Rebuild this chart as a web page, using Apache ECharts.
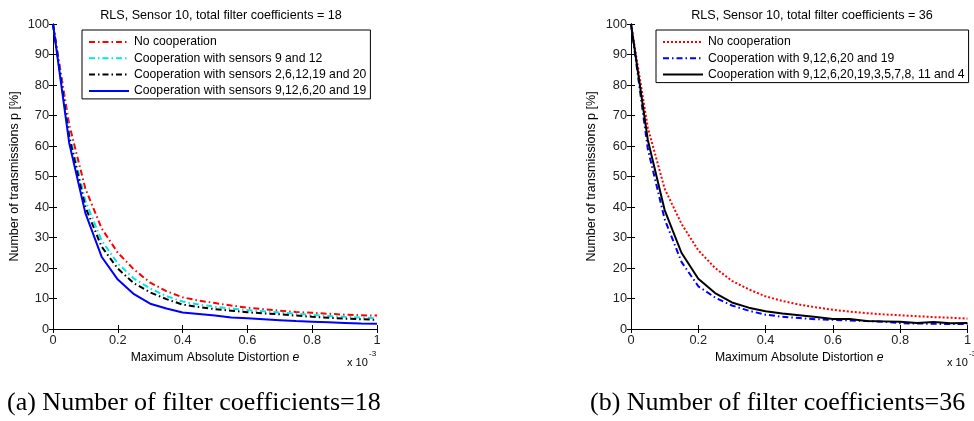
<!DOCTYPE html>
<html>
<head>
<meta charset="utf-8">
<script src="https://cdn.jsdelivr.net/npm/echarts@6/dist/echarts.min.js"></script>
<style>
html,body{margin:0;padding:0;background:#fff;}
#chart{width:974px;height:421px;}
</style>
</head>
<body>
<div id="chart"></div>
<script>
// ---- data (x in units of 1e-3) ----
const xVals = [0, 0.05, 0.1, 0.15, 0.2, 0.25, 0.3, 0.35, 0.4, 0.45, 0.5, 0.55, 0.6, 0.65, 0.7, 0.75, 0.8, 0.85, 0.9, 0.95, 1.0];

// panel (a): 18 filter coefficients
const aNames = ['No cooperation', 'Cooperation with sensors 9 and 12', 'Cooperation with sensors 2,6,12,19 and 20', 'Cooperation with sensors 9,12,6,20 and 19'];
const aNoCoop   = [100, 67, 46, 33, 25, 19.5, 15.2, 12.4, 10.4, 9.3, 8.5, 7.7, 7.0, 6.5, 6.0, 5.6, 5.3, 5.0, 4.7, 4.5, 4.4];
const aCoop2    = [100, 64, 42, 29, 21.5, 16.5, 13.3, 10.8, 9.0, 8.0, 7.3, 6.7, 6.2, 5.8, 5.4, 5.0, 4.6, 4.3, 4.0, 3.8, 3.6];
const aCoop5a   = [100, 63, 40, 27, 19.8, 15, 12, 9.8, 8.0, 7.2, 6.5, 6.0, 5.5, 5.1, 4.8, 4.4, 4.0, 3.7, 3.4, 3.2, 3.0];
const aCoop5b   = [100, 61, 38, 23.7, 16.2, 11.4, 8.3, 6.7, 5.4, 4.9, 4.4, 3.8, 3.5, 3.2, 2.9, 2.6, 2.4, 2.2, 2.0, 1.8, 1.7];

// panel (b): 36 filter coefficients
const bNames = ['No cooperation', 'Cooperation with 9,12,6,20 and 19', 'Cooperation with 9,12,6,20,19,3,5,7,8, 11 and 4'];
const bNoCoop   = [100, 66, 46, 34.5, 25.8, 20, 15.8, 13, 10.7, 9.2, 8.0, 7.1, 6.3, 5.7, 5.2, 4.8, 4.5, 4.2, 3.9, 3.7, 3.4];
const bCoop5    = [100, 59, 36, 22, 14, 10.3, 7.7, 6.0, 4.7, 4.0, 3.6, 3.2, 3.0, 2.8, 2.6, 2.4, 1.9, 1.8, 1.7, 1.6, 1.6];
const bCoop11   = [100, 62, 39, 25, 16.5, 11.8, 8.7, 7.0, 5.8, 5.1, 4.5, 3.9, 3.3, 3.3, 2.6, 2.5, 2.4, 2.0, 2.3, 1.9, 2.0];

const titles = ['RLS, Sensor 10, total filter coefficients = 18', 'RLS, Sensor 10, total filter coefficients = 36'];
const captions = ['(a) Number of filter coefficients=18', '(b) Number of filter coefficients=36'];
const xTicks = {min: 0, max: 1, interval: 0.2};
const yTicks = {min: 0, max: 100, interval: 10};

// ---- styling ----
const FONT = '"Liberation Sans", Arial, sans-serif';
const SERIF = '"Liberation Serif", "Times New Roman", serif';
const dashDot = [6, 3, 1.5, 3];
const dotted = [2, 2];

function pts(arr){ return xVals.map((x, i) => [x, arr[i]]); }

const grids = [
  {left: 53, top: 24, width: 324, height: 305},
  {left: 631, top: 24, width: 346, height: 305}
];

function xAxisPair(gi){
  const base = {type: 'value', gridIndex: gi, min: xTicks.min, max: xTicks.max, interval: xTicks.interval,
    splitLine: {show: false},
    axisLine: {show: true, lineStyle: {color: '#000', width: 1}},
    axisTick: {show: true, inside: true, length: 4, lineStyle: {color: '#000'}}};
  return [
    Object.assign({}, base, {position: 'bottom',
      axisLabel: {show: true, color: '#222', fontSize: 12.8, fontFamily: FONT, margin: 5},
      name: 'Maximum Absolute Distortion {i|e}', nameLocation: 'middle', nameGap: 23,
      nameTextStyle: {color: '#000', fontSize: 12.2, fontFamily: FONT, rich: {i: {fontStyle: 'italic', fontSize: 12.2, fontFamily: FONT}}}}),
    Object.assign({}, base, {position: 'top', axisLabel: {show: false}})
  ];
}
function yAxisPair(gi){
  const base = {type: 'value', gridIndex: gi, min: yTicks.min, max: yTicks.max, interval: yTicks.interval,
    splitLine: {show: false},
    axisLine: {show: true, lineStyle: {color: '#000', width: 1}},
    axisTick: {show: true, inside: true, length: 4, lineStyle: {color: '#000'}}};
  return [
    Object.assign({}, base, {position: 'left',
      axisLabel: {show: true, color: '#222', fontSize: 12.8, fontFamily: FONT, margin: 4},
      name: 'Number of transmissions p [%]', nameLocation: 'middle', nameGap: gi === 0 ? 32 : 33, nameRotate: 90,
      nameTextStyle: {color: '#000', fontSize: 12.5, fontFamily: FONT}}),
    Object.assign({}, base, {position: 'right', axisLabel: {show: false}})
  ];
}

function line(name, data, color, type, xi, yi, width){
  return {type: 'line', name: name, xAxisIndex: xi, yAxisIndex: yi, data: pts(data),
    symbol: 'none', showSymbol: false, animation: false, z: 3,
    lineStyle: {color: color, width: width || 2, type: type, cap: 'butt'},
    itemStyle: {color: color}};
}

function legendOf(names, prefix, left){
  return {orient: 'vertical', left: left, top: 30, itemWidth: 40, itemHeight: 12, itemGap: 4.3,
    padding: [6, 4, 2, 6], borderColor: '#000', borderWidth: 1, backgroundColor: '#fff',
    itemStyle: {opacity: 0, borderWidth: 0},
    data: names.map(n => prefix + n), formatter: n => n.slice(prefix.length),
    textStyle: {color: '#000', fontSize: 12.2, fontFamily: FONT}, selectedMode: false};
}

const option = {
  backgroundColor: '#fff',
  animation: false,
  title: [
    {text: titles[0], left: 216, top: 4, textAlign: 'center', textStyle: {fontSize: 12.6, fontWeight: 'normal', color: '#000', fontFamily: FONT}},
    {text: titles[1], left: 807, top: 4, textAlign: 'center', textStyle: {fontSize: 12.6, fontWeight: 'normal', color: '#000', fontFamily: FONT}}
  ],
  grid: grids,
  xAxis: [...xAxisPair(0), ...xAxisPair(1)],
  yAxis: [...yAxisPair(0), ...yAxisPair(1)],
  legend: [legendOf(aNames, 'a:', 82), legendOf(bNames, 'b:', 656)],
  series: [
    line('a:' + aNames[0], aNoCoop, '#ff0000', dashDot, 0, 0),
    line('a:' + aNames[1], aCoop2, '#00e6e6', dashDot, 0, 0),
    line('a:' + aNames[2], aCoop5a, '#000000', dashDot, 0, 0),
    line('a:' + aNames[3], aCoop5b, '#0000ff', 'solid', 0, 0),
    line('b:' + bNames[0], bNoCoop, '#ff0000', dotted, 2, 2),
    line('b:' + bNames[1], bCoop5, '#0000ff', dashDot, 2, 2),
    line('b:' + bNames[2], bCoop11, '#000000', 'solid', 2, 2)
  ],
  graphic: [
    {type: 'text', left: 347, top: 357, style: {text: 'x 10', fontSize: 11, fontFamily: FONT, fill: '#000'}},
    {type: 'text', left: 369, top: 350, style: {text: '-3', fontSize: 8, fontFamily: FONT, fill: '#000'}},
    {type: 'text', left: 947, top: 357, style: {text: 'x 10', fontSize: 11, fontFamily: FONT, fill: '#000'}},
    {type: 'text', left: 969, top: 350, style: {text: '-3', fontSize: 8, fontFamily: FONT, fill: '#000'}},
    {type: 'text', left: 7, top: 390, style: {text: captions[0], fontSize: 26, fontFamily: SERIF, fill: '#000'}},
    {type: 'text', left: 590, top: 390, style: {text: captions[1], fontSize: 26, fontFamily: SERIF, fill: '#000'}}
  ]
};

const chart = echarts.init(document.getElementById('chart'), null, {renderer: 'canvas'});
chart.setOption(option);
</script>
</body>
</html>
